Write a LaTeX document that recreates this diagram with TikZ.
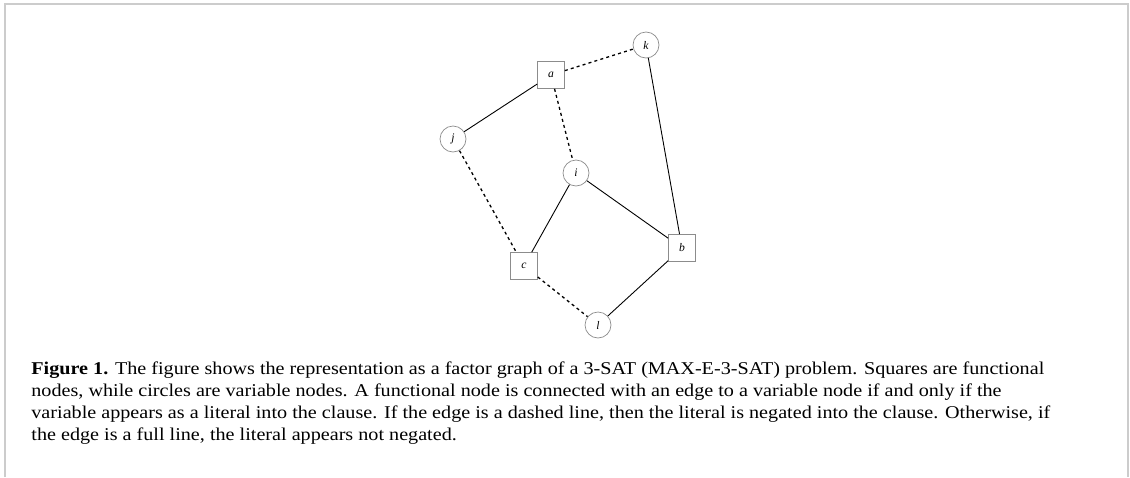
\documentclass[tikz,border=0pt]{standalone}
\usepackage{fontspec}
\setmainfont{Liberation Serif}
\newfontfamily\captionfont[FakeStretch=1.12]{Liberation Serif}
\usepackage{tikz}
\usetikzlibrary{positioning}

\begin{document}
\begin{tikzpicture}[
    x=0.5pt, y=-0.5pt,
    varnode/.style={
        circle, draw=gray!90, line width=0.35pt, minimum size=13pt,
        inner sep=0pt, font=\fontsize{5.8}{6}\selectfont\itshape
    },
    funcnode/.style={
        rectangle, draw=gray!90, line width=0.35pt, minimum size=13.5pt,
        inner sep=0pt, font=\fontsize{5.8}{6}\selectfont\itshape
    },
    posedge/.style={line width=0.45pt, black},
    negedge/.style={line width=0.65pt, black, dash pattern=on 1.5pt off 1.6pt}
]
    % frame
    \useasboundingbox (0,0) rectangle (1130,477);
    \draw[gray!40, line width=1pt] (5,477) -- (5,4) -- (1128,4) -- (1128,477);

    % functional nodes
    \node[funcnode] (a) at (551,75)  {a};
    \node[funcnode] (b) at (682,248) {b};
    \node[funcnode] (c) at (524,266) {c};

    % variable nodes
    \node[varnode] (k) at (646,45)  {k};
    \node[varnode] (j) at (453,139) {j};
    \node[varnode] (i) at (576,173) {i};
    \node[varnode] (l) at (598,325) {l};

    % edges
    \draw[negedge] (a) -- (k);
    \draw[posedge] (a) -- (j);
    \draw[negedge] (a) -- (i);
    \draw[negedge] (j) -- (c);
    \draw[posedge] (i) -- (c);
    \draw[posedge] (i) -- (b);
    \draw[posedge] (k) -- (b);
    \draw[negedge] (c) -- (l);
    \draw[posedge] (l) -- (b);

    % caption
    \node[anchor=north west, inner sep=0pt, align=left,
          font=\captionfont\fontsize{9}{11.15}\selectfont] (caption) at (31,361)
    {\textbf{Figure 1.} The figure shows the representation as a factor graph of a 3-SAT (MAX-E-3-SAT) problem. Squares are functional\\
     nodes, while circles are variable nodes. A functional node is connected with an edge to a variable node if and only if the\\
     variable appears as a literal into the clause. If the edge is a dashed line, then the literal is negated into the clause. Otherwise, if\\
     the edge is a full line, the literal appears not negated.};
\end{tikzpicture}
\end{document}
